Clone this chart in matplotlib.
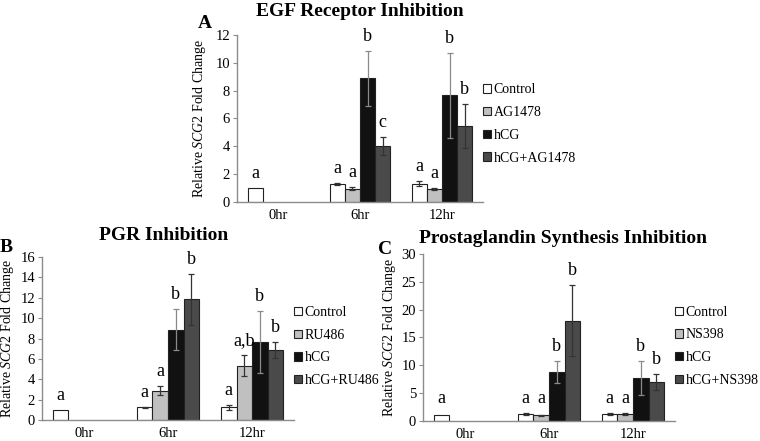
import numpy as np
import matplotlib.pyplot as plt

plt.rcParams['font.family'] = ['Liberation Serif', 'DejaVu Serif']
plt.rcParams['mathtext.fontset'] = 'custom'
plt.rcParams['mathtext.rm'] = 'Liberation Serif'
plt.rcParams['mathtext.it'] = 'Liberation Serif:italic'

nan = np.nan
times = ['0hr', '6hr', '12hr']

# A - EGF receptor inhibition
egf_names = ['Control', 'AG1478', 'hCG', 'hCG+AG1478']
egf_vals = [[1.0, 1.28, 1.32], [nan, 0.95, 0.92], [nan, 8.88, 7.68], [nan, 4.0, 5.47]]
egf_errs = [[nan, 0.08, 0.18], [nan, 0.1, 0.08], [nan, 2.0, 3.05], [nan, 0.65, 1.6]]
egf_letters = [['a', 'a', 'a'], ['', 'a', 'a'], ['', 'b', 'b'], ['', 'c', 'b']]

# B - PGR inhibition
pgr_names = ['Control', 'RU486', 'hCG', 'hCG+RU486']
pgr_vals = [[1.0, 1.25, 1.25], [nan, 2.88, 5.35], [nan, 8.88, 7.65], [nan, 11.85, 6.85]]
pgr_errs = [[nan, 0.05, 0.22], [nan, 0.45, 1.0], [nan, 2.0, 3.05], [nan, 2.5, 0.8]]
pgr_letters = [['a', 'a', 'a'], ['', 'a', 'a,b'], ['', 'b', 'b'], ['', 'b', 'b']]

# C - prostaglandin synthesis inhibition
pg_names = ['Control', 'NS398', 'hCG', 'hCG+NS398']
pg_vals = [[1.0, 1.25, 1.3], [nan, 1.0, 1.25], [nan, 8.85, 7.65], [nan, 18.0, 7.0]]
pg_errs = [[nan, 0.1, 0.2], [nan, 0.1, 0.15], [nan, 2.0, 3.05], [nan, 6.4, 1.4]]
pg_letters = [['a', 'a', 'a'], ['', 'a', 'a'], ['', 'b', 'b'], ['', 'b', 'b']]

bar_colors = ['white', '#c0c0c0', '#111111', '#4a4a4a']
err_colors = ['#333333', '#333333', '#8a8a8a', '#333333']
bw = 0.185


def draw(ax, names, vals, errs, letters, ymax, step, title, title_x, title_pad, leg_y, lab_x):
	x = np.arange(len(times))
	for j in range(4):
		xs = x + (j - 1.5) * bw
		v = np.array(vals[j])
		e = np.array(errs[j])
		ax.bar(xs, v, bw, color=bar_colors[j], edgecolor='#222222', linewidth=0.8, label=names[j], zorder=2)
		ax.errorbar(xs, v, yerr=e, fmt='none', ecolor=err_colors[j], elinewidth=0.9,
					capsize=2, capthick=0.9, zorder=3)
		for i in range(len(times)):
			if letters[j][i] == '':
				continue
			# letter sits just above the error bar
			top = v[i] + (0 if np.isnan(e[i]) else e[i])
			y = max(top, 0.05 * ymax) + 0.06 * ymax
			ax.text(xs[i], y, letters[j][i], ha='center', va='baseline', fontsize=13, zorder=4)

	ax.set_xlim(-0.5, len(times) - 0.5)
	ax.set_ylim(0, ymax)
	ax.set_yticks(np.arange(0, ymax + 0.1, step))
	ax.set_xticks(x)
	ax.set_xticklabels(times)
	ax.tick_params(axis='x', length=0, pad=5, labelsize=10.5)
	ax.tick_params(axis='y', length=3, width=0.8, color='#8c8c8c', pad=2, labelsize=10.5)
	for s in ['top', 'right']:
		ax.spines[s].set_visible(False)
	for s in ['left', 'bottom']:
		ax.spines[s].set_color('#8c8c8c')
		ax.spines[s].set_linewidth(1.0)
	ax.set_ylabel('Relative $\\mathit{SCG2}$ Fold Change', fontsize=10)
	ax.yaxis.set_label_coords(-lab_x, 0.5)
	ax.set_title(title, fontsize=14, fontweight='bold', x=title_x, pad=title_pad)
	ax.legend(loc='upper left', bbox_to_anchor=(1.0, leg_y), frameon=False, fontsize=10,
			  handlelength=0.55, handleheight=0.55, handletextpad=0.2, labelspacing=0.7,
			  borderpad=0, borderaxespad=0)


fig = plt.figure(figsize=(7.6, 4.41), dpi=100)
ax_a = fig.add_axes([0.3118, 0.5420, 0.3237, 0.3787])
ax_b = fig.add_axes([0.0553, 0.0476, 0.3316, 0.3696])
ax_c = fig.add_axes([0.5566, 0.0454, 0.3316, 0.3787])

draw(ax_a, egf_names, egf_vals, egf_errs, egf_letters, 12, 2, 'EGF Receptor Inhibition', 0.5, 14, 0.71, 0.118)
draw(ax_b, pgr_names, pgr_vals, pgr_errs, pgr_letters, 16, 2, 'PGR Inhibition', 0.482, 12, 0.70, 0.105)
draw(ax_c, pg_names, pg_vals, pg_errs, pg_letters, 30, 5, 'Prostaglandin Synthesis Inhibition', 0.556, 8, 0.69, 0.099)

fig.text(198 / 760, 1 - 28 / 441, 'A', fontsize=14, fontweight='bold', va='baseline')
fig.text(0 / 760, 1 - 252 / 441, 'B', fontsize=14, fontweight='bold', va='baseline')
fig.text(378 / 760, 1 - 254 / 441, 'C', fontsize=14, fontweight='bold', va='baseline')

fig.savefig('out.png', dpi=100)
